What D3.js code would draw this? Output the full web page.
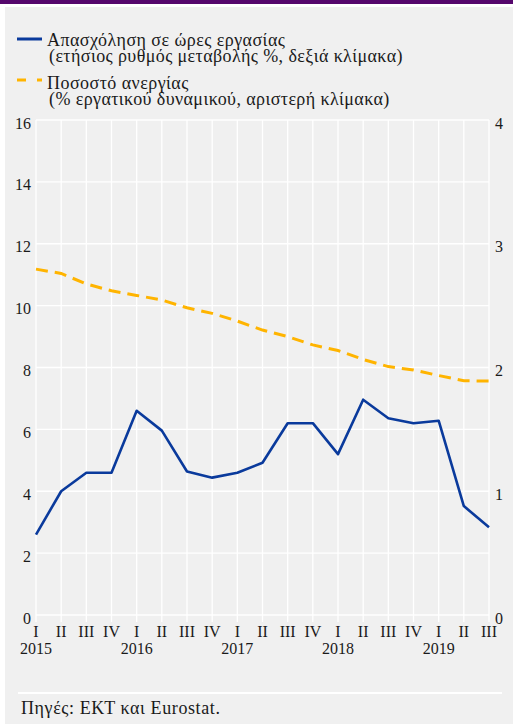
<!DOCTYPE html>
<html>
<head>
<meta charset="utf-8">
<script src="https://cdn.jsdelivr.net/npm/d3@7"></script>
<style>
  html, body { margin: 0; padding: 0; background: #fff; }
  svg { display: block; }
</style>
</head>
<body>
<svg id="chart" width="513" height="724"></svg>
<script>
// quarters 2015 Q1 .. 2019 Q3
const quarters = ["I", "II", "III", "IV", "I", "II", "III", "IV", "I", "II", "III", "IV",
  "I", "II", "III", "IV", "I", "II", "III"];
const years = ["2015", "2016", "2017", "2018", "2019"];

// unemployment rate, % of labour force (left scale)
const unemployment = [11.18, 11.04, 10.70, 10.48, 10.33, 10.18, 9.93, 9.75, 9.50, 9.21,
  9.00, 8.73, 8.55, 8.26, 8.03, 7.92, 7.74, 7.57, 7.56];
// hours worked, annual % change (right scale)
const hoursWorked = [0.65, 1.00, 1.15, 1.15, 1.65, 1.49, 1.16, 1.11, 1.15, 1.23,
  1.55, 1.55, 1.30, 1.74, 1.59, 1.55, 1.57, 0.88, 0.71];

const leftTicks = [0, 2, 4, 6, 8, 10, 12, 14, 16];
const rightTicks = [0, 1, 2, 3, 4];

const legendItems = [
  { lines: ["Απασχόληση σε ώρες εργασίας", "(ετήσιος ρυθμός μεταβολής %, δεξιά κλίμακα)"], color: "#0a3a9c", dash: null },
  { lines: ["Ποσοστό ανεργίας", "(% εργατικού δυναμικού, αριστερή κλίμακα)"], color: "#ffb400", dash: "12,7" }
];
const source = "Πηγές: ΕΚΤ και Eurostat.";

const svg = d3.select("#chart");
const W = 513, H = 724;
const plot = { left: 36, right: 489, top: 120, bottom: 615 };

// header bar and panel
svg.append("rect").attr("x", 0).attr("y", 0).attr("width", W).attr("height", 4).attr("fill", "#55076c");
svg.append("rect").attr("x", 5).attr("y", 7).attr("width", W - 5).attr("height", H - 7).attr("fill", "#f0f0f0");

const x = d3.scalePoint().domain(d3.range(quarters.length)).range([plot.left, plot.right]);
const yL = d3.scaleLinear().domain([0, 16]).range([plot.bottom, plot.top]);
const yR = d3.scaleLinear().domain([0, 4]).range([plot.bottom, plot.top]);

function label(sel, size, spacing = 0) {
  return sel.attr("font-family", "Liberation Serif")
    .attr("style", `font-family:'Liberation Serif';font-size:${size}px;fill:#1a1a1a;letter-spacing:${spacing}px`);
}

// grid
const grid = svg.append("g").attr("stroke", "#fff").attr("stroke-width", 1.3);
grid.selectAll("line.h").data(leftTicks).enter().append("line")
  .attr("x1", plot.left).attr("x2", plot.right)
  .attr("y1", d => yL(d)).attr("y2", d => yL(d));
grid.selectAll("line.v").data(d3.range(quarters.length)).enter().append("line")
  .attr("x1", d => x(d)).attr("x2", d => x(d))
  .attr("y1", plot.top).attr("y2", plot.bottom + 7);

// axes
const axL = svg.append("g").attr("transform", `translate(${plot.left},0)`)
  .call(d3.axisLeft(yL).tickValues(leftTicks).tickFormat(d3.format("d")).tickSize(0).tickPadding(5));
const axR = svg.append("g").attr("transform", `translate(${plot.right},0)`)
  .call(d3.axisRight(yR).tickValues(rightTicks).tickFormat(d3.format("d")).tickSize(0).tickPadding(6));
[axL, axR].forEach(a => {
  a.attr("font-family", null).attr("font-size", null);
  a.select(".domain").remove();
  a.selectAll("text").call(label, 16).attr("dy", "0.5em");
});

// x labels
svg.append("g").selectAll("text").data(quarters).enter().append("text")
  .attr("x", (d, i) => x(i)).attr("y", 637)
  .attr("text-anchor", "middle").call(label, 16)
  .text(d => d);
svg.append("g").selectAll("text").data(years).enter().append("text")
  .attr("x", (d, i) => x(i * 4)).attr("y", 654)
  .attr("text-anchor", "middle").call(label, 16)
  .text(d => d);

// lines
const lineL = d3.line().x((d, i) => x(i)).y(d => yL(d));
const lineR = d3.line().x((d, i) => x(i)).y(d => yR(d));

svg.append("path").datum(unemployment)
  .attr("d", lineL).attr("fill", "none")
  .attr("stroke", legendItems[1].color).attr("stroke-width", 3)
  .attr("stroke-dasharray", legendItems[1].dash);

svg.append("path").datum(hoursWorked)
  .attr("d", lineR).attr("fill", "none")
  .attr("stroke", legendItems[0].color).attr("stroke-width", 2.6)
  .attr("stroke-linejoin", "round");

// legend
const legend = svg.append("g");
const legendY = [46, 89];
const markY = [-7, -9];
legendItems.forEach((item, k) => {
  const g = legend.append("g").attr("transform", `translate(0,${legendY[k]})`);
  g.append("line").attr("x1", 17).attr("x2", 42).attr("y1", markY[k]).attr("y2", markY[k])
    .attr("stroke", item.color).attr("stroke-width", 3)
    .attr("stroke-dasharray", item.dash ? "9,11" : null);
  g.append("text").attr("x", 47).attr("y", 0).call(label, 18, 0.45).text(item.lines[0]);
  g.append("text").attr("x", 49).attr("y", 16).call(label, 18, 0.4).text(item.lines[1]);
});

// source
svg.append("line").attr("x1", 18).attr("x2", 502).attr("y1", 693).attr("y2", 693)
  .attr("stroke", "#fff").attr("stroke-width", 2);
svg.append("text").attr("x", 21).attr("y", 714).call(label, 18, 0.6).text(source);
</script>
</body>
</html>
